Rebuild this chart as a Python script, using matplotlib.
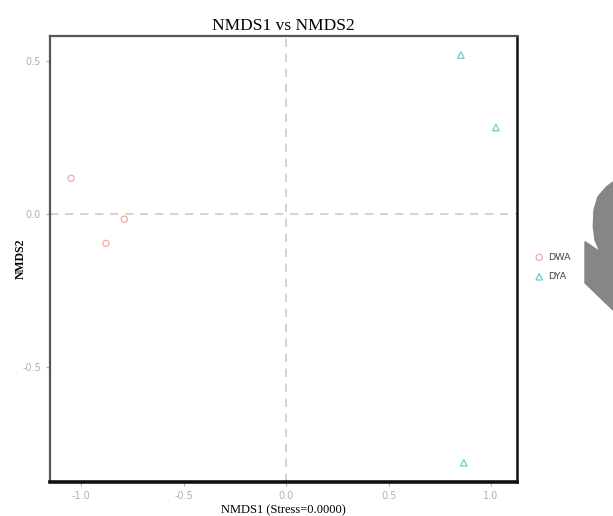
import matplotlib
matplotlib.use("Agg")
import matplotlib.pyplot as plt
from matplotlib.patches import Polygon

# NMDS scores
groups = ["DWA", "DYA"]
dwa_x = [-1.05, -0.79, -0.88]
dwa_y = [0.117, -0.017, -0.096]
dya_x = [0.853, 1.024, 0.867]
dya_y = [0.52, 0.283, -0.813]
xticks = [-1.0, -0.5, 0.0, 0.5, 1.0]
yticks = [-0.5, 0.0, 0.5]

fig = plt.figure(figsize=(6.13, 5.16), dpi=100)
ax = fig.add_axes([50/613, 1-482/516, 467/613, 446/516])

ax.axvline(0, color="#cccccc", ls=(0, (5, 4)), lw=1.2, zorder=0)
ax.axhline(0, color="#cccccc", ls=(0, (5, 4)), lw=1.2, zorder=0)

ax.scatter(dwa_x, dwa_y, marker="o", s=20, facecolors="none",
           edgecolors="#f4a8a2", linewidths=0.9, label=groups[0])
ax.scatter(dya_x, dya_y, marker="^", s=22, facecolors="none",
           edgecolors="#66cfd2", linewidths=0.9, label=groups[1])

ax.set_xlim(-1.153, 1.127)
ax.set_ylim(-0.876, 0.582)
ax.set_xticks(xticks)
ax.set_yticks(yticks)
ax.set_xticklabels(["%.1f" % t for t in xticks])
ax.set_yticklabels(["%.1f" % t for t in yticks])
ax.tick_params(colors="#b0b0b0", labelsize=7, length=3, width=0.8)

for side in ["left", "top"]:
    ax.spines[side].set_color("#555555")
    ax.spines[side].set_linewidth(1.6)
ax.spines["right"].set_color("#111111")
ax.spines["right"].set_linewidth(1.8)
ax.spines["bottom"].set_color("#111111")
ax.spines["bottom"].set_linewidth(2.6)

ax.set_title("NMDS1 vs NMDS2", family="Liberation Serif", fontsize=12.5, pad=4)
ax.set_xlabel("NMDS1 (Stress=0.0000)", family="Liberation Serif", fontsize=9, labelpad=2)
ax.set_ylabel("NMDS2", family="Liberation Serif", fontsize=8.5,
              fontweight="bold", labelpad=-3)

leg = fig.legend(loc="center left", bbox_to_anchor=(526/613, 1-267/516),
                 frameon=False, fontsize=6.8, handletextpad=0.4,
                 labelspacing=1.1, handlelength=1.0)
for t in leg.get_texts():
    t.set_color("#444444")

# grey blob on the right edge of the picture
blob = [(613, 182), (606.7, 186.7), (598, 196.7), (594, 210), (593.3, 226.7),
        (595, 240), (600, 251.7), (585, 241.7), (585, 283), (613, 310)]
fig.patches.append(Polygon([(x/613, 1-y/516) for x, y in blob], closed=True,
                           transform=fig.transFigure, color="#868686", zorder=5))

fig.savefig("out.png", dpi=100)
